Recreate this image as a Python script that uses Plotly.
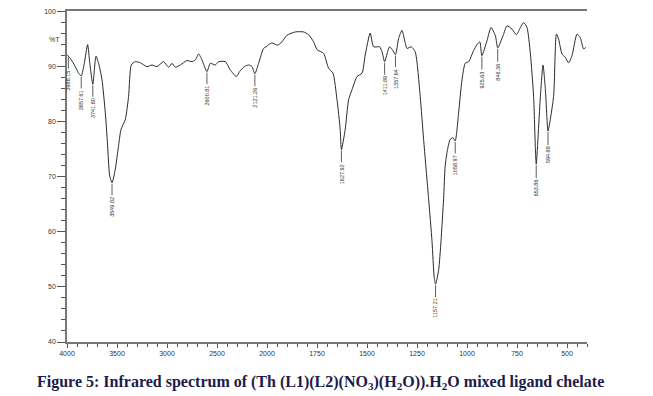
import plotly.graph_objects as go

# Wavenumber (cm-1) and transmittance (%T)
wavenumber = [
    4000, 3986.15, 3967, 3917, 3887, 3857.61, 3827, 3794, 3772, 3741.80, 3710, 3684, 3650,
    3617, 3594, 3574, 3549.82, 3517, 3484, 3460, 3417, 3384, 3357, 3317, 3267, 3200, 3150,
    3100, 3034, 2984, 2950, 2917, 2867, 2800, 2750, 2717, 2684, 2650, 2600.81, 2567, 2517,
    2484, 2417, 2367, 2307, 2274, 2227, 2184, 2150, 2121.26, 2084, 2034, 2000,
    1992, 1975, 1947, 1925, 1900, 1858, 1817, 1792, 1767, 1750, 1717, 1692, 1670, 1650,
    1634, 1627.92, 1609, 1592, 1575, 1550, 1525, 1509, 1484, 1467, 1437, 1425, 1411.89,
    1397, 1387, 1374, 1357.64, 1342, 1325, 1312, 1300, 1279, 1259, 1234, 1217, 1192, 1175,
    1164, 1157.21, 1142, 1130, 1117, 1109, 1097, 1084, 1070, 1058.97, 1042, 1025, 1009, 992,
    967, 950, 936, 925.63, 900, 880, 858, 846.36, 820, 800, 775, 753, 733, 717, 700, 683,
    667, 658, 653.86, 633, 620, 608, 600, 594.88, 567, 553, 542, 525, 509, 492, 475, 450,
    434, 417, 406,
]
transmittance = [
    92.2, 91.9, 91.5, 90.0, 88.9, 88.3, 90.6, 94.0, 90.6, 86.8, 91.9, 90.6, 87.6,
    81.6, 75.7, 70.3, 68.9, 71.4, 75.7, 78.6, 80.4, 84.6, 90.3, 90.9, 90.7, 90.0, 90.3,
    90.0, 90.9, 89.9, 90.6, 89.9, 90.3, 91.1, 90.9, 91.2, 92.3, 91.2, 89.1, 90.6, 90.3,
    90.9, 90.9, 89.4, 88.2, 89.1, 90.0, 90.3, 90.0, 88.7, 90.6, 93.3, 93.7,
    94.0, 94.3, 93.9, 94.5, 95.7, 96.3, 96.3, 95.8, 94.5, 93.1, 92.4, 89.7, 88.8, 84.0,
    78.6, 74.9, 78.6, 84.0, 85.8, 88.2, 88.8, 92.1, 96.1, 93.6, 93.6, 92.7, 90.9,
    92.7, 93.6, 93.1, 92.2, 95.1, 96.6, 94.8, 93.3, 93.6, 92.7, 84.6, 76.8, 66.0, 58.3,
    51.7, 50.5, 53.0, 58.3, 66.0, 72.0, 75.0, 76.8, 77.1, 76.5, 81.6, 87.6, 90.6, 90.9,
    92.9, 94.0, 94.5, 92.0, 94.7, 97.1, 95.6, 93.4, 95.6, 97.4, 96.8, 95.8, 97.1, 98.0, 97.1, 92.3,
    84.6, 75.0, 72.3, 84.6, 90.3, 85.8, 80.5, 78.3, 84.6, 95.9, 95.0, 92.3, 91.7, 90.7, 92.0, 95.9,
    95.3, 93.2, 93.5,
]

# Labelled peaks
peak_labels = ["3986.15", "3857.61", "3741.80", "3549.82", "2600.81", "2121.26",
               "1627.92", "1411.89", "1357.64", "1157.21", "1058.97", "925.63",
               "846.36", "653.86", "594.88"]

y_ticks = [40, 50, 60, 70, 80, 90, 100]
x_ticks_high = [4000, 3500, 3000, 2500]
x_ticks_low = [2000, 1750, 1500, 1250, 1000, 750, 500]

caption = ("<b>Figure 5: Infrared spectrum of (Th (L1)(L2)(NO<sub>3</sub>)(H<sub>2</sub>O)).H<sub>2</sub>O "
           "mixed ligand chelate</b>")

BREAK = 2000
hi_x = [w for w in wavenumber if w >= BREAK]
hi_y = [t for w, t in zip(wavenumber, transmittance) if w >= BREAK]
lo_x = [w for w in wavenumber if w <= BREAK]
lo_y = [t for w, t in zip(wavenumber, transmittance) if w <= BREAK]

line_style = dict(color="#2a2a2a", width=1, shape="spline", smoothing=0.6)
fig = go.Figure()
fig.add_trace(go.Scatter(x=hi_x, y=hi_y, mode="lines", line=line_style, xaxis="x", yaxis="y",
                         showlegend=False, hoverinfo="skip"))
fig.add_trace(go.Scatter(x=lo_x, y=lo_y, mode="lines", line=line_style, xaxis="x2", yaxis="y",
                         showlegend=False, hoverinfo="skip"))

annotations = []
lookup = {f"{w:.2f}": (w, t) for w, t in zip(wavenumber, transmittance)}
for lab in peak_labels:
    w, t = lookup[lab]
    annotations.append(dict(
        x=w, y=t, xref="x" if w >= BREAK else "x2", yref="y",
        text=lab, textangle=-90, showarrow=True, arrowhead=0, arrowwidth=0.8,
        arrowcolor="#333", ax=0, ay=24, standoff=1,
        font=dict(family="Liberation Sans, Arial", size=5.5, color="#333"),
    ))

annotations.append(dict(x=0, y=95, xref="paper", yref="y", xshift=-20, text="%T",
                        showarrow=False, font=dict(family="Liberation Sans, Arial", size=7, color="#333")))
annotations.append(dict(x=0.488, y=-0.123, xref="paper", yref="paper", text=caption,
                        showarrow=False, xanchor="center", yanchor="middle",
                        font=dict(family="Liberation Serif, Times New Roman", size=16, color="#1c1c4a")))

w_hi = 200 / 520
axis_common = dict(showline=True, linecolor="#777", linewidth=1.5, mirror=True, ticks="outside",
                   ticklen=4, tickcolor="#555", tickwidth=1, showgrid=False, zeroline=False,
                   tickfont=dict(family="Liberation Sans, Arial", size=7, color="#333"))

# The page body has an 8px default margin, so the figure is sized 8px smaller
fig.update_layout(
    width=645, height=388,
    margin=dict(l=59, r=66, t=1, b=54),
    paper_bgcolor="white", plot_bgcolor="white",
    xaxis=dict(domain=[0, w_hi], range=[4000, 2000], tickvals=x_ticks_high, anchor="y",
               minor=dict(dtick=100, ticklen=3, ticks="outside", tickcolor="#555"), **axis_common),
    xaxis2=dict(domain=[w_hi, 1], range=[2000, 400], tickvals=x_ticks_low, anchor="y",
                minor=dict(dtick=50, ticklen=3, ticks="outside", tickcolor="#555"), **axis_common),
    yaxis=dict(range=[40, 100.1], tickvals=y_ticks, showline=True, linecolor="#777", linewidth=1.5,
               ticks="outside", ticklen=8, tickcolor="#555", showgrid=False, zeroline=False,
               minor=dict(dtick=2, ticklen=4, ticks="outside", tickcolor="#555"),
               tickfont=dict(family="Liberation Sans, Arial", size=7, color="#333")),
    annotations=annotations,
)

fig.write_html("out.html")
